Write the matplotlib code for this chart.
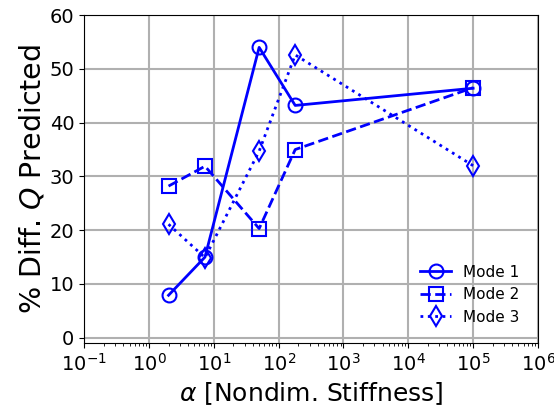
import matplotlib
matplotlib.use("Agg")
import matplotlib.pyplot as plt

alpha = [2, 7.3, 50, 180, 1e5]
mode1 = [7.9, 15.0, 54.0, 43.2, 46.4]
mode2 = [28.2, 31.9, 20.3, 35.0, 46.5]
mode3 = [21.1, 14.9, 34.7, 52.6, 32.0]

fig = plt.figure(figsize=(5.54, 4.08), dpi=100)
ax = fig.add_axes([0.152, 0.159, 0.819, 0.804])

ax.plot(alpha, mode1, "-o", color="blue", lw=2, ms=10, mfc="none", mew=1.5, label="Mode 1")
ax.plot(alpha, mode2, "--s", color="blue", lw=2, ms=10, mfc="none", mew=1.5, label="Mode 2")
ax.plot(alpha, mode3, ":d", color="blue", lw=2, ms=10, mfc="none", mew=1.5, label="Mode 3")

ax.set_xscale("log")
ax.set_xlim(1e-1, 1e6)
ax.set_ylim(-1, 60)
ax.set_xticks([10.0**k for k in range(-1, 7)])
ax.set_yticks(range(0, 61, 10))
ax.tick_params(labelsize=14)

ax.set_xlabel(r"$\alpha$ [Nondim. Stiffness]", fontsize=18)
ax.set_ylabel(r"% Diff. $Q$ Predicted", fontsize=20.5, labelpad=2)

ax.grid(True, color="#b0b0b0", linewidth=1.5)
ax.legend(loc="lower right", fontsize=11, frameon=False, borderaxespad=0.8)

fig.savefig("out.png", dpi=100)
